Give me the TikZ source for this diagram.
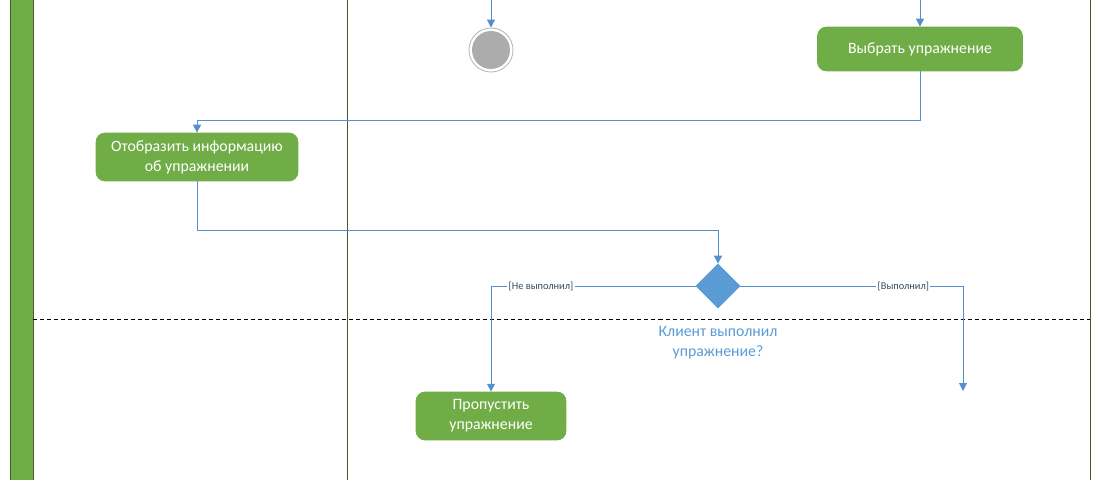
\documentclass[tikz,border=0pt]{standalone}
\usepackage{fontspec}
\setmainfont{Carlito}
\usetikzlibrary{shapes.geometric,arrows.meta}
\definecolor{actgreen}{HTML}{70AD47}
\definecolor{laneline}{HTML}{435A2E}
\definecolor{flowblue}{HTML}{5490CC}
\definecolor{decblue}{HTML}{5B9BD5}
\definecolor{guardtxt}{HTML}{3A4A5C}
\begin{document}
\begin{tikzpicture}[x=0.02cm,y=-0.02cm,
    action/.style={rectangle, rounded corners=0.18cm, fill=actgreen, draw=actgreen, text=white,
        inner sep=0pt, align=center, font=\fontsize{9}{11.3}\selectfont},
    decision/.style={diamond, fill=decblue, draw=decblue, inner sep=0pt,
        minimum width=0.88cm, minimum height=0.88cm},
    conn/.style={draw=flowblue, line width=0.5pt, -{Triangle[width=4.5pt,length=4.5pt]}},
    guard/.style={fill=white, inner sep=0.8pt, text=guardtxt, font=\fontsize{5.9}{6.5}\selectfont}]
                \useasboundingbox (0,0) rectangle (1103,480);

                % swimlanes
                \draw[fill=actgreen, draw=laneline, line width=0.5pt] (10,-2) rectangle (33,482);
                \draw[laneline, line width=0.45pt] (347,-2) -- (347,482);
                \draw[laneline, line width=0.45pt] (1090,-2) -- (1090,482);
                \draw[dash pattern=on 2.3pt off 1.7pt, line width=0.45pt] (33,319) -- (1090,319);

                % nodes
                \node[circle, draw=gray!55, line width=0.5pt, minimum size=0.88cm, inner sep=0pt] (final) at (491,50) {};
                \fill[gray!65] (final.center) circle (0.38cm);
                \node[action, minimum width=4.1cm, minimum height=0.88cm] (pick) at (920,49) {Выбрать упражнение};
                \node[action, minimum width=4.04cm, minimum height=0.96cm] (show) at (197,157) {Отобразить информацию\\об упражнении};
                \node[decision] (dec) at (718,286) {};
                \node[text=decblue, align=center, font=\fontsize{9}{11.3}\selectfont] (ask) at (718,343) {Клиент выполнил\\упражнение?};
                \node[action, minimum width=3.0cm, minimum height=0.96cm] (skip) at (491,416) {Пропустить\\упражнение};

                \coordinate (intop) at (491,0);
                \coordinate (picktop) at (920,0);
                \coordinate (done) at (963,391);

                % flows
                \draw[conn] (intop) -- (final);
                \draw[conn] (picktop) -- (pick);
                \draw[conn] (pick.south) -- ++(0,49) -| (show.north);
                \draw[conn] (show.south) -- ++(0,49) -| (dec.north);
                \draw[conn] (dec.west) -| node[guard, pos=0.378] {[Не выполнил]} (skip.north);
                \draw[conn] (dec.east) -| node[guard, pos=0.366] {[Выполнил]} (done);
            \end{tikzpicture}
\end{document}
